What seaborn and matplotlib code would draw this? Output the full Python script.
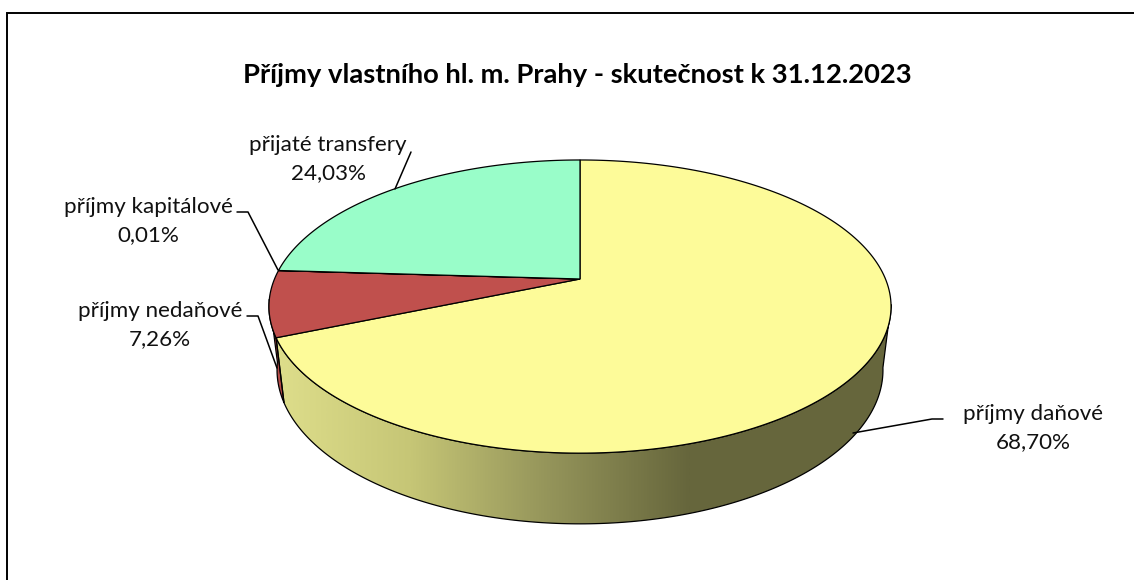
import matplotlib.pyplot as plt
import matplotlib.patches as mpatches
import numpy as np
import seaborn as sns

TITLE = 'Příjmy vlastního hl. m. Prahy - skutečnost k 31.12.2023'
categories = ['příjmy daňové', 'příjmy nedaňové', 'příjmy kapitálové', 'přijaté transfery']
values = [68.70, 7.26, 0.01, 24.03]
value_labels = ['68,70%', '7,26%', '0,01%', '24,03%']

top_colours = ['#FDFB99', '#C0504D', '#8064A2', '#99FDC9']
wall_colours = [
    ['#DFDF8C', '#C6C676', '#94945A', '#66663C'],
    ['#C0504D', '#A84643'],
]

# where the labels and their leader lines sit, in pixels
label_pos = [(1033, 428), (160, 325), (148, 221), (328, 159)]
leaders = [
    [(943, 419), (932, 419), (853, 433)],
    [(247, 316), (258, 316), (277, 368)],
    [(237, 212), (248, 212), (278, 270)],
    [(411, 152), (395, 189)],
]

# perspective of the pie, fitted on the picture
APEX_X, APEX_Y = 580, 279
RX, RY, K = 305.5, 141.4, 0.188
BOTTOM_Y, SCALE_X, SCALE_Y = 341, 0.974, 1.05
# part of the rim that shows a wall, degrees clockwise from 12 o'clock
WALL_FROM, WALL_TO = 100, 262


def project(angle, bottom=False):
    a = np.radians(angle)
    x = np.sin(a)
    y = np.cos(a)
    w = 1 + K * y
    px = RX * x / w
    py = RY * y / w
    if bottom:
        return APEX_X + px * SCALE_X, BOTTOM_Y - py * SCALE_Y
    return APEX_X + px, APEX_Y - py


def main():
    sns.set_theme(style='white')
    plt.rcParams['font.family'] = ['Lato', 'DejaVu Sans']

    fig = plt.figure(figsize=(11.34, 5.8), dpi=100)
    ax = fig.add_axes([0, 0, 1, 1])
    ax.set_xlim(0, 1134)
    ax.set_ylim(580, 0)
    ax.axis('off')

    # chart border, only top and left are inside the picture
    ax.plot([7, 7, 1134], [580, 13, 13], color='black', lw=1.4, solid_joinstyle='miter')

    edges = np.cumsum([0] + values)
    edges = edges / edges[-1] * 360

    # walls: gradient image clipped to the wall outline
    gradient = np.linspace(0, 1, 512)[None, :]
    for i in range(len(values)):
        start = max(edges[i], WALL_FROM)
        stop = min(edges[i + 1], WALL_TO)
        if start >= stop:
            continue
        angles = np.linspace(start, stop, 200)
        xs, ys = project(angles)
        xb, yb = project(angles[::-1], bottom=True)
        outline = mpatches.Polygon(np.c_[np.r_[xs, xb], np.r_[ys, yb]], closed=True,
                                   fc='none', ec='black', lw=0.9, zorder=3)
        ax.add_patch(outline)
        shade = sns.blend_palette(wall_colours[i], as_cmap=True)
        if i == 0:
            image = ax.imshow(gradient, cmap=shade, extent=(270, 690, 580, 0), aspect='auto', zorder=2)
            # right of the gradient the wall stays at its darkest
            flat = ax.imshow(np.ones((1, 2)), cmap=shade, vmin=0, vmax=1,
                             extent=(690, 1134, 580, 0), aspect='auto', zorder=2)
            flat.set_clip_path(outline)
        else:
            image = ax.imshow(gradient, cmap=shade, extent=(265, 295, 580, 0), aspect='auto', zorder=2.5)
        image.set_clip_path(outline)
    ax.set_xlim(0, 1134)
    ax.set_ylim(580, 0)

    # top face
    for i in range(len(values)):
        angles = np.linspace(edges[i], edges[i + 1], 200)
        xs, ys = project(angles)
        xs = np.r_[APEX_X, xs]
        ys = np.r_[APEX_Y, ys]
        ax.fill(xs, ys, fc=top_colours[i], ec='black', lw=0.9, zorder=4)

    for name, label, pos in zip(categories, value_labels, label_pos):
        ax.text(pos[0], pos[1], f'{name}\n{label}', ha='center', va='center',
                fontsize=16.1, color='#111111', linespacing=1.47, zorder=6)
    for line in leaders:
        ax.plot(*zip(*line), color='black', lw=1.1, zorder=5)

    ax.text(577, 75, TITLE, ha='center', va='center', fontsize=19.7,
            fontweight='bold', color='black')

    fig.savefig('out.png', dpi=100)


if __name__ == '__main__':
    main()
